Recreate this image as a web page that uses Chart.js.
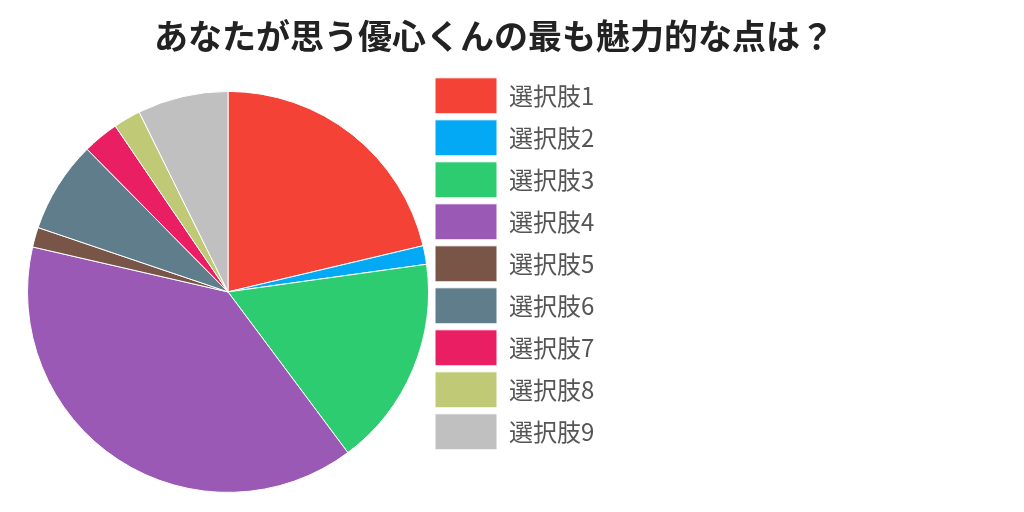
<!DOCTYPE html>
<html>
<head>
<meta charset="utf-8">
<script src="https://cdn.jsdelivr.net/npm/chart.js@4"></script>
<style>
  html, body { margin: 0; padding: 0; background: #fff; }
  #wrap { width: 1024px; height: 512px; }
</style>
</head>
<body>
<div id="wrap"><canvas id="pie" width="1024" height="512"></canvas></div>
<script>
// labels in the original picture are blurred out, so these are stand-ins
const answers = ['選択肢1', '選択肢2', '選択肢3', '選択肢4', '選択肢5', '選択肢6', '選択肢7', '選択肢8', '選択肢9'];
const shares = [21.3, 1.5, 17.0, 38.8, 1.6, 7.4, 2.9, 2.2, 7.3];
const sliceColors = ['#F44336', '#03A9F4', '#2ECC71', '#9B59B6', '#795548', '#607D8B', '#E91E63', '#C0CA76', '#C0C0C0'];

const LEGEND_W = 532;

// fixed legend column width, and keep it below the title
const legendPlace = {
  id: 'legendPlace',
  beforeInit(chart) {
    const lg = chart.legend;
    if (!lg) return;
    const fit = lg.fit;
    lg.fit = function () {
      fit.call(this);
      this.width = LEGEND_W;
    };
  },
  afterLayout(chart) {
    const lg = chart.legend;
    if (!lg) return;
    const h = lg.height;
    lg.top = chart.chartArea.top;
    lg.bottom = lg.top + h;
  }
};

const ctx = document.getElementById('pie').getContext('2d');
new Chart(ctx, {
  type: 'pie',
  data: {
    labels: answers,
    datasets: [{
      data: shares,
      backgroundColor: sliceColors,
      borderColor: '#ffffff',
      borderWidth: 1
    }]
  },
  plugins: [legendPlace],
  options: {
    responsive: false,
    animation: false,
    layout: { padding: { left: 27, right: 63, top: 0, bottom: 0 } },
    plugins: {
      title: {
        display: true,
        text: 'あなたが思う優心くんの最も魅力的な点は？',
        color: '#222',
        font: { family: '"Noto Sans CJK JP", sans-serif', size: 34, weight: 'bold', lineHeight: 1.2 },
        padding: { top: 16, bottom: 15 }
      },
      legend: {
        position: 'right',
        align: 'start',
        labels: {
          boxWidth: 62,
          boxHeight: 36,
          padding: 6,
          color: '#555',
          font: { family: '"Noto Sans CJK JP", sans-serif', size: 24 }
        }
      },
      tooltip: { enabled: false }
    }
  }
});
</script>
</body>
</html>
